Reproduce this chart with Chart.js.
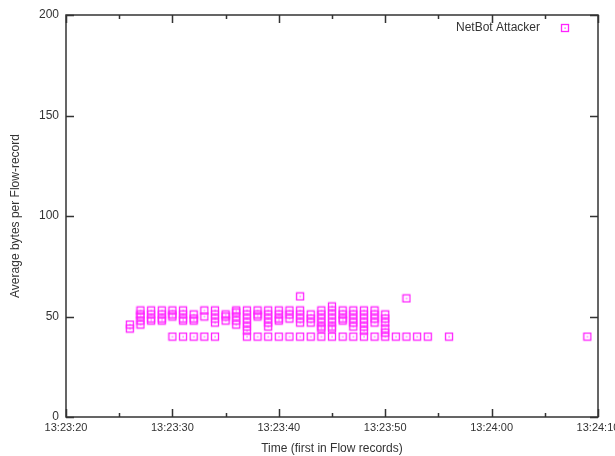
<!DOCTYPE html>
<html>
<head>
<meta charset="utf-8">
<script src="https://cdn.jsdelivr.net/npm/chart.js@4"></script>
<style>
  html, body { margin: 0; padding: 0; background: #fff; overflow: hidden; }
  #wrap { width: 615px; height: 456px; }
</style>
</head>
<body>
<div id="wrap"><canvas id="netbot-chart"></canvas></div>
<script>
// seconds after 13:23:00 and average bytes per flow record, one entry per point
var times = [26,26,
  27,27,27,27,27, 28,28,28,28, 29,29,29,29, 30,30,30,30,
  31,31,31,31,31, 32,32,32,32, 33,33,33, 34,34,34,34,34,
  35,35,35, 36,36,36,36,36, 37,37,37,37,37,37,37, 38,38,38,38,
  39,39,39,39,39,39, 40,40,40,40,40, 41,41,41,41, 42,42,42,42,42,42,
  43,43,43,43, 44,44,44,44,44,44,44, 45,45,45,45,45,45,45,45,
  46,46,46,46,46, 47,47,47,47,47,47, 48,48,48,48,48,48,48,
  49,49,49,49,49, 50,50,50,50,50,50, 51, 52,52, 53, 54, 56, 69];
var avgBytes = [44,46,
  53,51,50,48,46, 53,51,49,48, 53,51,49,48, 53,51,50,40,
  53,51,49,48,40, 51,49,48,40, 53,50,40, 53,51,49,47,40,
  51,50,48, 53,52,50,48,46, 53,51,49,47,45,43,40, 53,51,50,40,
  53,51,49,47,45,40, 53,51,49,48,40, 53,51,49,40, 60,53,51,49,47,40,
  51,49,47,40, 53,51,49,47,45,44,40, 55,53,51,49,47,45,44,40,
  53,51,49,48,40, 53,51,49,47,45,40, 53,51,49,47,45,43,40,
  53,51,49,47,40, 51,49,47,44,42,40, 40, 59,40, 40, 40, 40, 40];
var xTicks = [20, 30, 40, 50, 60, 70];
var yTicks = [0, 50, 100, 150, 200];
var seriesName = "NetBot Attacker";

var points = [];
for (var i = 0; i < times.length; i++) {
  points.push({x: times[i], y: avgBytes[i]});
}

// gnuplot style hollow square with a dot in the middle
var marker = document.createElement("canvas");
marker.width = 10;
marker.height = 10;
var mc = marker.getContext("2d");
mc.strokeStyle = "#ff22ff";
mc.lineWidth = 1.3;
mc.strokeRect(1.5, 1.5, 7, 7);
mc.fillStyle = "#ff22ff";
mc.fillRect(4.5, 4.5, 1.2, 1.2);

function timeLabel(s) {
  var m = 23 + Math.floor(s / 60);
  var sec = s % 60;
  return "13:" + m + ":" + (sec < 10 ? "0" + sec : sec);
}

// frame, inward ticks on all four sides, and the key in the top right corner
var framePlugin = {
  id: "frame",
  afterDraw: function(chart) {
    var ctx = chart.ctx, a = chart.chartArea;
    var xs = chart.scales.x, ys = chart.scales.y;
    ctx.save();
    ctx.strokeStyle = "#333";
    ctx.lineWidth = 1.5;
    ctx.strokeRect(a.left, a.top, a.right - a.left, a.bottom - a.top);
    ctx.beginPath();
    for (var v = 20; v <= 70; v += 5) {
      var px = Math.round(xs.getPixelForValue(v)) + 0.5;
      var len = (v % 10 === 0) ? 8 : 4;
      ctx.moveTo(px, a.bottom); ctx.lineTo(px, a.bottom - len);
      ctx.moveTo(px, a.top); ctx.lineTo(px, a.top + len);
    }
    for (var k = 0; k < yTicks.length; k++) {
      var py = Math.round(ys.getPixelForValue(yTicks[k])) + 0.5;
      ctx.moveTo(a.left, py); ctx.lineTo(a.left + 8, py);
      ctx.moveTo(a.right, py); ctx.lineTo(a.right - 8, py);
    }
    ctx.stroke();

    // key
    var ky = a.top + 13;
    ctx.font = "12px 'Liberation Sans', Arial, sans-serif";
    ctx.fillStyle = "#333";
    ctx.textAlign = "right";
    ctx.textBaseline = "middle";
    ctx.fillText(seriesName, a.right - 58, ky);
    ctx.drawImage(marker, a.right - 38, ky - 5);
    ctx.restore();
  }
};

Chart.defaults.font.family = "'Liberation Sans', Arial, sans-serif";
Chart.defaults.color = "#333";

new Chart(document.getElementById("netbot-chart"), {
  type: "scatter",
  data: {
    datasets: [{
      label: seriesName,
      data: points,
      pointStyle: marker,
      pointRadius: 4,
      borderColor: "#ff22ff",
      backgroundColor: "rgba(0,0,0,0)"
    }]
  },
  options: {
    responsive: true,
    maintainAspectRatio: false,
    animation: false,
    layout: { padding: { top: 15, right: 17, left: 0, bottom: 0 } },
    plugins: {
      tooltip: { enabled: false },
      legend: { display: false }
    },
    scales: {
      x: {
        type: "linear",
        min: 20,
        max: 70,
        afterBuildTicks: function(scale) {
          scale.ticks = xTicks.map(function(v) { return {value: v}; });
        },
        afterFit: function(scale) {
          scale.height = 39;
          scale.paddingLeft = 0;
          scale.paddingRight = 0;
        },
        grid: { display: false, drawTicks: false },
        border: { display: false },
        ticks: {
          maxRotation: 0,
          autoSkip: false,
          padding: 4,
          font: { size: 11 },
          color: "#333",
          callback: function(v) { return timeLabel(v); }
        },
        title: {
          display: true,
          text: "Time (first in Flow records)",
          font: { size: 12 },
          color: "#333",
          padding: { top: 4, bottom: 0 }
        }
      },
      y: {
        min: 0,
        max: 200,
        afterBuildTicks: function(scale) {
          scale.ticks = yTicks.map(function(v) { return {value: v}; });
        },
        afterFit: function(scale) {
          scale.width = 66;
          scale.paddingTop = 0;
          scale.paddingBottom = 0;
        },
        grid: { display: false, drawTicks: false },
        border: { display: false },
        ticks: {
          padding: 7,
          font: { size: 12 },
          color: "#333"
        },
        title: {
          display: true,
          text: "Average bytes per Flow-record",
          font: { size: 12 },
          color: "#333",
          padding: { top: 8, bottom: 8 }
        }
      }
    }
  },
  plugins: [framePlugin]
});
</script>
</body>
</html>
